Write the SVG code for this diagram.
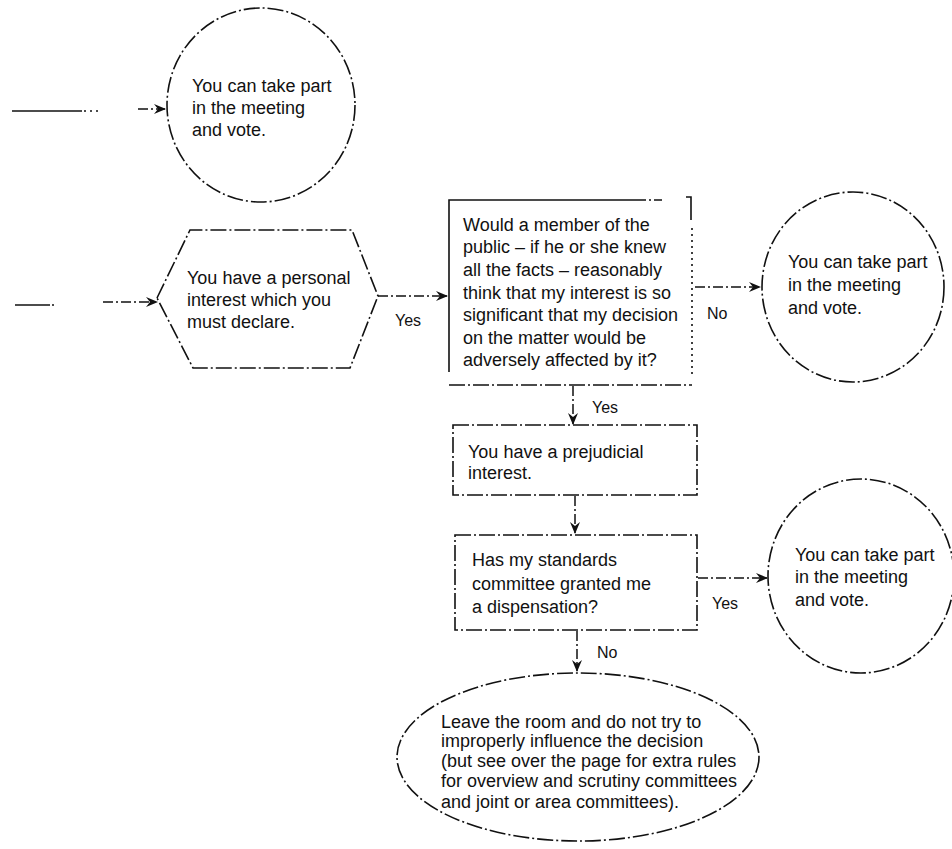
<svg xmlns="http://www.w3.org/2000/svg" width="952" height="849" viewBox="0 0 952 849">
<defs>
<style>
.bg{fill:#fff}
.sh{fill:none;stroke:#111;stroke-width:1.6;stroke-dasharray:16 3 2 3}
.dot{fill:none;stroke:#111;stroke-width:1.6;stroke-dasharray:2 4}
.sol{fill:none;stroke:#111;stroke-width:1.6}
.cn{fill:none;stroke:#111;stroke-width:1.5;stroke-dasharray:10 3 2 3}
.t{font-family:"Liberation Sans",Arial,Helvetica,sans-serif;font-size:18px;fill:#111}
.lb{font-family:"Liberation Sans",Arial,Helvetica,sans-serif;font-size:16px;fill:#111}
</style>
<marker id="ah" markerWidth="12" markerHeight="10" refX="11" refY="5" orient="auto" markerUnits="userSpaceOnUse">
<path d="M0,0 L12,5 L0,10 L4,5 Z" fill="#111"/>
</marker>
</defs>
<rect class="bg" x="0" y="0" width="952" height="849"/>

<g id="connectors">
<path class="sol" d="M12,111 H82"/>
<path class="dot" d="M84,111 H100"/>
<path class="cn" d="M138,109 H165" marker-end="url(#ah)"/>
<path class="sol" d="M15,305 H50"/>
<path class="dot" d="M52,305 H58"/>
<path class="cn" d="M103,302 H157" marker-end="url(#ah)"/>
<path class="cn" d="M378,296 H447" marker-end="url(#ah)"/>
<path class="cn" d="M695,287 H760" marker-end="url(#ah)"/>
<path class="cn" d="M573,386 V424" marker-end="url(#ah)"/>
<path class="cn" d="M575,496 V533" marker-end="url(#ah)"/>
<path class="cn" d="M698,578 H767" marker-end="url(#ah)"/>
<path class="cn" d="M577,631 V671" marker-end="url(#ah)"/>
<text class="lb" x="395" y="326">Yes</text>
<text class="lb" x="707" y="319">No</text>
<text class="lb" x="592" y="413">Yes</text>
<text class="lb" x="712" y="609">Yes</text>
<text class="lb" x="597" y="658">No</text>
</g>

<g id="vote-1">
<ellipse class="sh" cx="261" cy="105" rx="94" ry="97"/>
<text class="t" x="192" y="92">You can take part</text>
<text class="t" x="192" y="114">in the meeting</text>
<text class="t" x="192" y="136">and vote.</text>
</g>

<g id="personal-interest">
<polygon class="sh" points="157,298 190,230 352,230 378,296 350,368 193,368"/>
<text class="t" x="187" y="284">You have a personal</text>
<text class="t" x="187" y="306">interest which you</text>
<text class="t" x="187" y="328">must declare.</text>
</g>

<g id="question">
<path class="sol" d="M449,372 V200 H630"/>
<path class="sh" d="M630,200 H662"/>
<path class="sol" d="M686,197 H691 V220"/>
<path class="dot" d="M692,228 V378"/>
<path class="sh" d="M449,385 H692"/>
<text class="t" x="463" y="231">Would a member of the</text>
<text class="t" x="463" y="253">public – if he or she knew</text>
<text class="t" x="463" y="276">all the facts – reasonably</text>
<text class="t" x="463" y="299">think that my interest is so</text>
<text class="t" x="463" y="321">significant that my decision</text>
<text class="t" x="463" y="344">on the matter would be</text>
<text class="t" x="463" y="366">adversely affected by it?</text>
</g>

<g id="vote-2">
<ellipse class="sh" cx="853" cy="287" rx="91" ry="95"/>
<text class="t" x="788" y="268">You can take part</text>
<text class="t" x="788" y="291">in the meeting</text>
<text class="t" x="788" y="314">and vote.</text>
</g>

<g id="prejudicial">
<rect class="sh" x="453" y="425" width="244" height="70"/>
<text class="t" x="468" y="458">You have a prejudicial</text>
<text class="t" x="468" y="479">interest.</text>
</g>

<g id="dispensation">
<rect class="sh" x="455" y="535" width="242" height="95"/>
<text class="t" x="472" y="566">Has my standards</text>
<text class="t" x="472" y="590">committee granted me</text>
<text class="t" x="472" y="613">a dispensation?</text>
</g>

<g id="vote-3">
<ellipse class="sh" cx="861" cy="576" rx="93" ry="97"/>
<text class="t" x="795" y="561">You can take part</text>
<text class="t" x="795" y="583">in the meeting</text>
<text class="t" x="795" y="606">and vote.</text>
</g>

<g id="leave">
<ellipse class="sh" cx="578" cy="757" rx="181" ry="84"/>
<text class="t" x="441" y="728">Leave the room and do not try to</text>
<text class="t" x="441" y="747">improperly influence the decision</text>
<text class="t" x="441" y="767">(but see over the page for extra rules</text>
<text class="t" x="441" y="787">for overview and scrutiny committees</text>
<text class="t" x="441" y="808">and joint or area committees).</text>
</g>
</svg>
